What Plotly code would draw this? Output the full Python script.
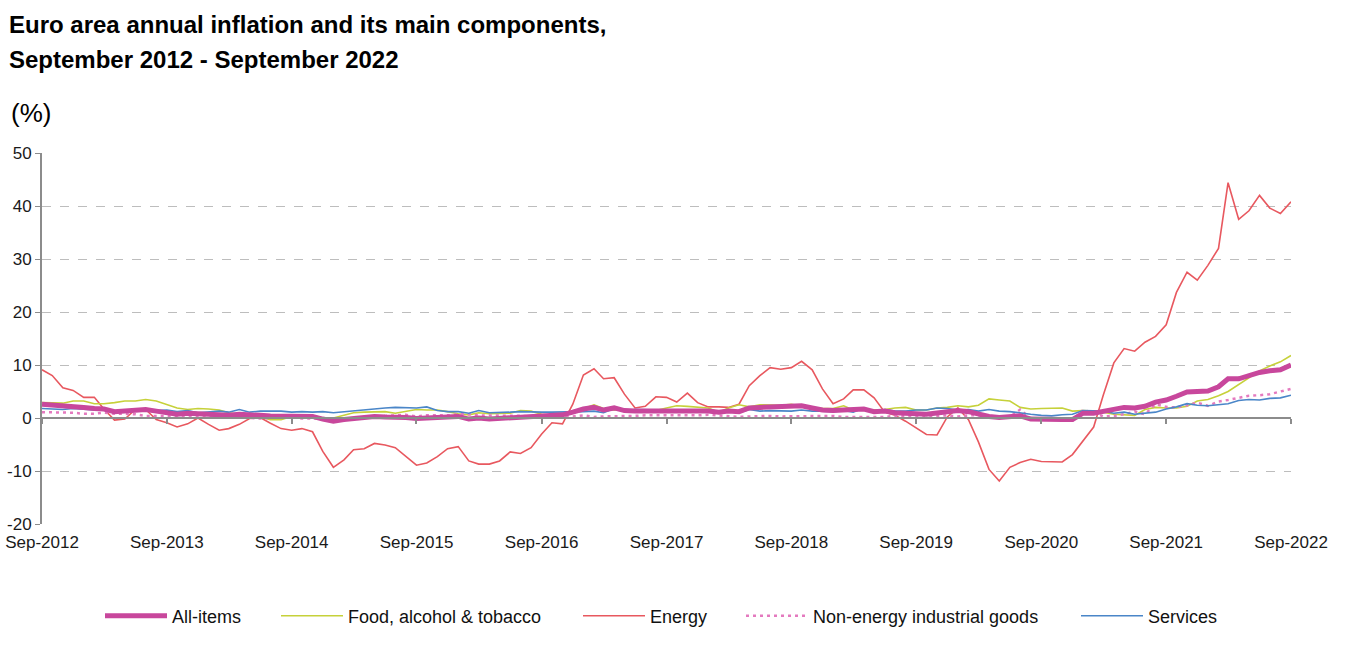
import plotly.graph_objects as go
import pandas as pd

months = pd.date_range("2012-09-01", "2022-09-01", freq="MS")

all_items = [2.6, 2.5, 2.2, 2.2,
             2.0, 1.8, 1.7, 1.2, 1.4, 1.6, 1.6, 1.3, 1.1, 0.7, 0.9, 0.8,
             0.8, 0.7, 0.5, 0.7, 0.5, 0.5, 0.4, 0.4, 0.3, 0.4, 0.3, -0.2,
             -0.6, -0.3, -0.1, 0.0, 0.3, 0.2, 0.2, 0.1, -0.1, 0.1, 0.1, 0.2,
             0.3, -0.2, 0.0, -0.2, -0.1, 0.1, 0.2, 0.2, 0.4, 0.5, 0.6, 1.1,
             1.7, 2.0, 1.5, 1.9, 1.4, 1.3, 1.3, 1.5, 1.5, 1.4, 1.5, 1.4,
             1.3, 1.1, 1.3, 1.2, 1.9, 2.0, 2.1, 2.0, 2.1, 2.3, 1.9, 1.5,
             1.4, 1.5, 1.4, 1.7, 1.2, 1.3, 1.0, 1.0, 0.8, 0.7, 1.0, 1.3,
             1.4, 1.2, 0.7, 0.3, 0.1, 0.3, 0.4, -0.2, -0.3, -0.3, -0.3, -0.3,
             0.9, 0.9, 1.3, 1.6, 2.0, 1.9, 2.2, 3.0, 3.4, 4.1, 4.9, 5.0,
             5.1, 5.9, 7.4, 7.4, 8.1, 8.6, 8.9, 9.1, 10.0]

food = [2.9, 2.9, 2.8, 3.2,
        3.2, 2.7, 2.7, 2.9, 3.2, 3.2, 3.5, 3.2, 2.6, 1.9, 1.6, 1.8,
        1.7, 1.5, 1.0, 0.7, 0.1, 0.2, -0.3, -0.3, 0.3, 0.5, 0.5, 0.0,
        0.0, 0.5, 1.0, 1.1, 1.2, 1.2, 0.9, 1.3, 1.6, 1.5, 1.5, 1.2,
        0.8, 0.6, 1.0, 0.8, 0.9, 0.9, 1.4, 1.3, 0.7, 0.5, 0.7, 1.2,
        1.8, 2.5, 1.8, 1.5, 1.5, 1.3, 1.4, 1.4, 1.9, 2.3, 2.2, 2.1,
        1.9, 1.1, 1.9, 2.5, 2.1, 2.5, 2.5, 2.4, 2.6, 2.2, 1.9, 1.8,
        1.8, 2.3, 1.5, 1.5, 1.6, 1.6, 1.9, 2.0, 1.5, 1.5, 1.9, 2.0,
        2.3, 2.1, 2.4, 3.6, 3.4, 3.2, 2.0, 1.7, 1.8, 1.9, 1.9, 1.3,
        1.4, 1.3, 1.1, 0.7, 0.6, 0.5, 1.6, 2.0, 1.9, 1.9, 2.2, 3.2,
        3.5, 4.2, 5.0, 6.3, 7.5, 8.9, 9.8, 10.6, 11.8]

energy = [9.1, 8.0, 5.7, 5.2,
          3.9, 3.9, 1.7, -0.4, -0.2, 1.6, 1.6, -0.3, -0.9, -1.7, -1.1, 0.0,
          -1.2, -2.3, -2.0, -1.2, -0.1, 0.1, -1.0, -2.0, -2.3, -2.0, -2.6, -6.3,
          -9.3, -7.9, -6.0, -5.8, -4.8, -5.1, -5.6, -7.2, -8.9, -8.5, -7.3, -5.8,
          -5.4, -8.1, -8.7, -8.7, -8.1, -6.4, -6.7, -5.6, -3.0, -0.9, -1.1, 2.6,
          8.1, 9.3, 7.4, 7.6, 4.5, 1.9, 2.2, 4.0, 3.9, 3.0, 4.7, 2.9,
          2.1, 2.1, 2.0, 2.6, 6.1, 8.0, 9.5, 9.2, 9.5, 10.7, 9.1, 5.5,
          2.7, 3.6, 5.3, 5.3, 3.8, 1.1, 0.5, -0.6, -1.8, -3.1, -3.2, 0.2,
          1.9, -0.3, -4.5, -9.7, -11.9, -9.3, -8.4, -7.8, -8.2, -8.2, -8.3, -6.9,
          -4.2, -1.7, 4.3, 10.4, 13.1, 12.6, 14.3, 15.4, 17.6, 23.7, 27.5, 26.0,
          28.8, 32.0, 44.4, 37.5, 39.1, 42.0, 39.6, 38.6, 40.8]

non_energy = [1.1, 1.1, 1.1, 1.0,
              0.8, 0.8, 1.0, 0.8, 0.8, 0.7, 0.4, 0.4, 0.4, 0.3, 0.3, 0.4,
              0.2, 0.4, 0.2, 0.1, 0.0, -0.1, 0.0, 0.3, 0.2, -0.1, -0.1, -0.1,
              -0.1, -0.1, -0.1, 0.2, 0.3, 0.4, 0.5, 0.6, 0.3, 0.5, 0.5, 0.5,
              0.7, 0.7, 0.5, 0.5, 0.4, 0.4, 0.4, 0.3, 0.3, 0.3, 0.3, 0.3,
              0.5, 0.2, 0.3, 0.3, 0.3, 0.4, 0.5, 0.5, 0.5, 0.4, 0.4, 0.5,
              0.6, 0.5, 0.3, 0.2, 0.3, 0.4, 0.4, 0.3, 0.3, 0.3, 0.4, 0.4,
              0.4, 0.2, 0.2, 0.2, 0.3, 0.2, 0.4, 0.3, 0.3, 0.3, 0.4, 0.5,
              0.3, 0.5, 0.5, 0.3, 0.2, 0.2, 1.6, -0.1, -0.3, -0.1, -0.3, -0.5,
              1.5, 1.0, 0.3, 0.4, 0.7, 1.2, 0.7, 2.6, 2.1, 2.0, 2.4, 2.9,
              2.3, 3.1, 3.4, 3.8, 4.2, 4.3, 4.5, 5.0, 5.5]

services = [1.8, 1.7, 1.6, 1.8,
            1.6, 1.5, 1.8, 1.1, 1.5, 1.4, 1.4, 1.4, 1.5, 1.2, 1.4, 1.0,
            1.2, 1.3, 1.1, 1.6, 1.1, 1.3, 1.3, 1.3, 1.1, 1.2, 1.1, 1.2,
            1.0, 1.2, 1.3, 1.6, 1.8, 1.9, 2.0, 1.9, 1.9, 2.1, 1.4, 1.2,
            1.2, 0.9, 1.4, 1.0, 1.0, 1.1, 1.2, 1.1, 1.1, 1.1, 1.1, 1.2,
            1.2, 1.3, 1.0, 1.8, 1.3, 1.6, 1.6, 1.6, 1.5, 1.2, 1.5, 1.3,
            1.3, 1.2, 1.5, 1.0, 1.6, 1.3, 1.4, 1.3, 1.3, 1.5, 1.3, 1.3,
            1.2, 1.4, 1.1, 1.9, 1.0, 1.6, 1.3, 1.3, 1.5, 1.5, 1.9, 1.8,
            1.5, 1.6, 1.3, 1.6, 1.3, 1.2, 0.9, 0.7, 0.5, 0.4, 0.6, 0.7,
            1.4, 1.3, 1.3, 0.9, 1.1, 0.7, 0.9, 1.1, 1.7, 2.1, 2.7, 2.4,
            2.3, 2.5, 2.7, 3.3, 3.5, 3.4, 3.7, 3.8, 4.3]

series_names = ["All-items", "Food, alcohol & tobacco", "Energy",
                "Non-energy industrial goods", "Services"]

tick_dates = pd.date_range("2012-09-01", "2022-09-01", freq="12MS")
tick_labels = [d.strftime("%b-%Y") for d in tick_dates]
y_ticks = [-20, -10, 0, 10, 20, 30, 40, 50]
y_tick_labels = ["-20", "-10", "0", "10", "20", "30", "40", "50"]

FONT = "Liberation Sans, Arial, sans-serif"
W, H = 1347, 647
OFF = 0  # page body margin is removed by the post script
SL, SR, ST, SB = 42, 1291, 153, 524
L = SL - OFF
T = ST - OFF
R = W - (SR - OFF)
B = H - (SB - OFF)
PW = W - L - R
PH = H - T - B

def sx(px):
    return (px - OFF - L) / PW

def sy(py):
    return 1 - (py - OFF - T) / PH

fig = go.Figure()

styles = [
    dict(color="#C8479C", width=5, dash="solid"),
    dict(color="#C6D13A", width=1.6, dash="solid"),
    dict(color="#E8585F", width=1.6, dash="solid"),
    dict(color="#E47ABF", width=2.5, dash="3px,4px"),
    dict(color="#4A86C8", width=1.6, dash="solid"),
]
data = [all_items, food, energy, non_energy, services]
legend_ids = ["legend", "legend2", "legend3", "legend4", "legend5"]
legend_line_start = [107, 283, 585, 748, 1083]

order = [2, 1, 3, 4, 0]
for i in order:
    fig.add_trace(go.Scatter(
        x=months, y=data[i], mode="lines", name=series_names[i],
        line=styles[i], legend=legend_ids[i], showlegend=True,
    ))

# empty trace so that the zero-crossing axis is drawn
fig.add_trace(go.Scatter(x=[], y=[], xaxis="x2", showlegend=False))

layout_legends = {}
for lid, lpx in zip(legend_ids, legend_line_start):
    layout_legends[lid] = dict(
        x=sx(lpx - 7), xanchor="left",
        y=sy(616), yanchor="middle",
        orientation="h", font=dict(family=FONT, size=18, color="#111111"),
        bgcolor="rgba(0,0,0,0)", itemwidth=62, tracegroupgap=0,
    )

xr = [months[0], months[-1]]
fig.update_layout(
    width=W, height=H,
    margin=dict(l=L, r=R, t=T, b=B, autoexpand=False),
    plot_bgcolor="white", paper_bgcolor="white",
    hovermode=False,
    xaxis=dict(
        type="date", range=xr, tickvals=tick_dates, ticktext=tick_labels,
        showgrid=False, showline=False, zeroline=False, ticks="",
        tickfont=dict(family=FONT, size=17, color="#1a1a1a"),
        ticklabelstandoff=6, automargin=False, ticklabeloverflow="allow",
    ),
    xaxis2=dict(
        type="date", range=xr, overlaying="x", anchor="free",
        position=20 / 70, tickvals=tick_dates, showticklabels=False,
        showline=True, linecolor="#8C8C8C", linewidth=2,
        ticks="outside", ticklen=5, tickcolor="#8C8C8C", tickwidth=1.5,
        showgrid=False, zeroline=False, automargin=False,
    ),
    yaxis=dict(
        range=[-20, 50], tickvals=y_ticks, ticktext=y_tick_labels,
        showgrid=True, gridcolor="#BDBDBD", griddash="dash", gridwidth=1,
        showline=True, linecolor="#8C8C8C", linewidth=2,
        ticks="outside", ticklen=5, tickcolor="#8C8C8C",
        zeroline=False, automargin=False,
        tickfont=dict(family=FONT, size=17, color="#1a1a1a"),
    ),
    annotations=[
        dict(
            text="<b>Euro area annual inflation and its main components,</b>",
            xref="paper", yref="paper",
            x=sx(7), y=sy(9),
            xanchor="left", yanchor="top", align="left", showarrow=False,
            font=dict(family=FONT, size=24, color="#000000"),
        ),
        dict(
            text="<b>September 2012 - September 2022</b>",
            xref="paper", yref="paper",
            x=sx(7), y=sy(44),
            xanchor="left", yanchor="top", align="left", showarrow=False,
            font=dict(family=FONT, size=24, color="#000000"),
        ),
        dict(
            text="(%)", xref="paper", yref="paper",
            x=sx(9), y=sy(113),
            xanchor="left", yanchor="middle", showarrow=False,
            font=dict(family=FONT, size=26, color="#000000"),
        ),
    ],
    **layout_legends,
)

fig.write_html(
    "out.html",
    config={"displayModeBar": False},
    post_script="document.body.style.margin='0px';",
)
